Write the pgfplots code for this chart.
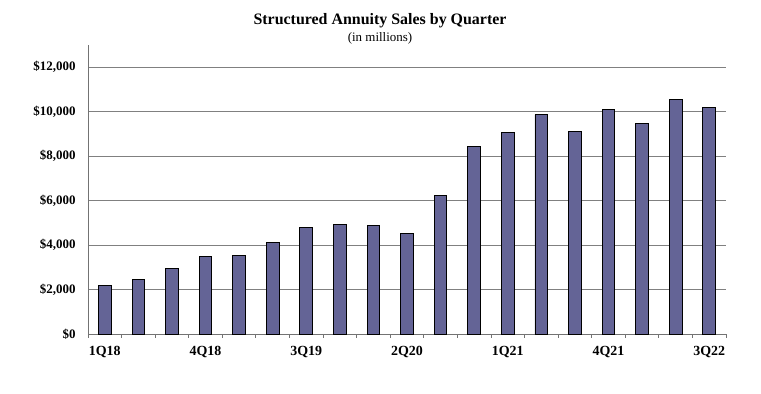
\documentclass[border=0pt]{standalone}
\usepackage{pgfplots}
\pgfplotsset{compat=1.18}
\usepackage{fontspec}
\setmainfont{Liberation Serif}
\definecolor{barblue}{RGB}{100,100,150}
\begin{document}
\begin{tikzpicture}
\path[use as bounding box] (0bp,0bp) rectangle (761bp,394bp);
\node[font=\bfseries\fontsize{16}{18}\selectfont] at (380bp,373bp) {Structured Annuity Sales by Quarter};
\node[font=\fontsize{13}{15}\selectfont] at (380bp,356bp) {(in millions)};
\begin{axis}[
  at={(88bp,60bp)}, anchor=south west,
  width=638bp, height=289bp, scale only axis,
  xmin=-0.5, xmax=18.5, ymin=0, ymax=13000,
  scaled y ticks=false,
  axis lines*=left,
  axis line style={draw=gray!90!black, line width=0.8pt},
  xtick={0,3,6,9,12,15,18},
  xticklabels={1Q18,4Q18,3Q19,2Q20,1Q21,4Q21,3Q22},
  minor xtick={-0.5,0.5,...,18.5},
  major tick length=0pt, minor tick length=3.5bp,
  tick align=outside,
  tick style={draw=gray!90!black, line width=0.8pt},
  ytick={0,2000,4000,6000,8000,10000,12000},
  yticklabels={{\$0},{\$2,000},{\$4,000},{\$6,000},{\$8,000},{\$10,000},{\$12,000}},
  ymajorgrids,
  grid style={draw=gray, line width=0.8pt},
  xticklabel style={font=\bfseries\fontsize{14}{16}\selectfont, yshift=-9bp},
  yticklabel style={font=\bfseries\fontsize{13}{15}\selectfont, xshift=-9bp},
  clip=false,
]
\addplot[ybar, bar width=12.7bp, fill=barblue, draw=black, line width=0.9pt] coordinates {
(0,2190) (1,2470) (2,2950) (3,3490) (4,3540) (5,4120) (6,4800) (7,4930) (8,4890) (9,4530)
(10,6230) (11,8435) (12,9060) (13,9870) (14,9110) (15,10100) (16,9470) (17,10550) (18,10190)
};
\end{axis}
\end{tikzpicture}
\end{document}
